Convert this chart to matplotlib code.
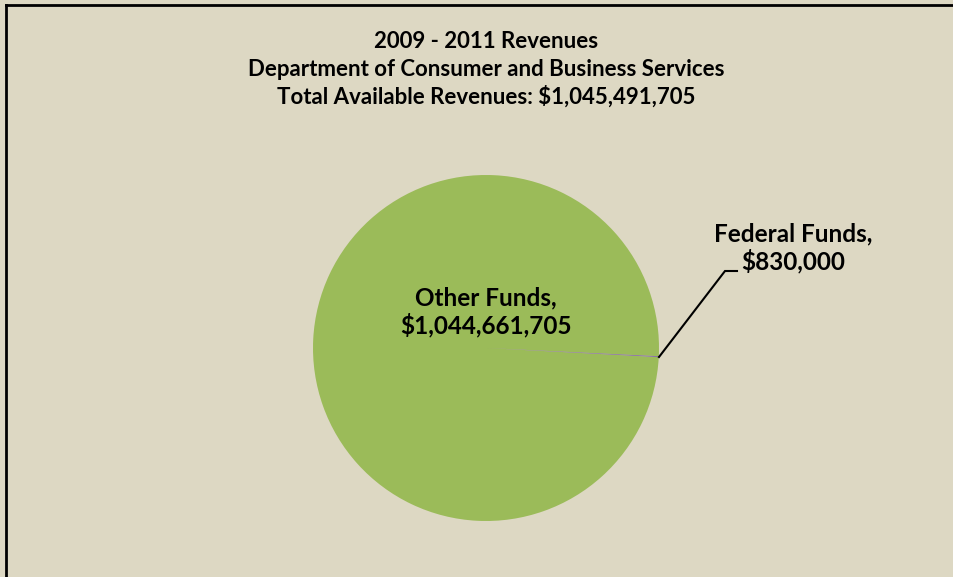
import matplotlib
matplotlib.use("Agg")
import matplotlib.pyplot as plt
from matplotlib.lines import Line2D

# data
funds = ["Other Funds", "Federal Funds"]
amounts = [1044661705, 830000]
colors = ["#9BBB59", "#8064A2"]
title_lines = ["2009 - 2011 Revenues",
               "Department of Consumer and Business Services",
               "Total Available Revenues: $1,045,491,705"]

plt.rcParams["font.family"] = ["Lato", "DejaVu Sans"]
bg = "#DDD8C3"

fig = plt.figure(figsize=(9.54, 5.77), dpi=100, facecolor=bg)
W, H = 954, 577
cx, cy, r = 486, 348, 173
ax = fig.add_axes([(cx - r) / W, (H - cy - r) / H, 2 * r / W, 2 * r / H])
ax.set_facecolor(bg)

frac_fed = amounts[1] / sum(amounts) * 360
ax.pie(amounts, colors=colors, startangle=-3.3 + frac_fed, counterclock=False,
       radius=1.0, wedgeprops=dict(linewidth=0))
ax.set_xlim(-1, 1)
ax.set_ylim(-1, 1)
ax.set_aspect("equal")
ax.axis("off")

def d(px, py):
    return (px - cx) / r, (cy - py) / r

ax.text(*d(486, 312), f"{funds[0]},\n${amounts[0]:,}", ha="center", va="center",
        fontsize=17.5, fontweight="bold", linespacing=1.2, color="black")
ax.text(*d(793, 248), f"{funds[1]},\n${amounts[1]:,}", ha="center", va="center",
        fontsize=17.5, fontweight="bold", linespacing=1.2, color="black")
pts = [d(659, 357), d(725, 271), d(737, 271)]
ax.plot([p[0] for p in pts], [p[1] for p in pts], color="black", lw=1.5,
        clip_on=False, solid_joinstyle="miter")

for i, line in enumerate(title_lines):
    fig.text(486 / W, 1 - (42 + 27.5 * i) / H, line, ha="center", va="center",
             fontsize=16, fontweight="bold")

# border (left and top)
fig.add_artist(Line2D([6 / W, 6 / W], [0, 1 - 5 / H], color="black", lw=2,
                      transform=fig.transFigure))
fig.add_artist(Line2D([6 / W, 1.01], [1 - 5 / H, 1 - 5 / H], color="black", lw=2,
                      transform=fig.transFigure, clip_on=False))

fig.savefig("out.png", dpi=100, facecolor=bg)
